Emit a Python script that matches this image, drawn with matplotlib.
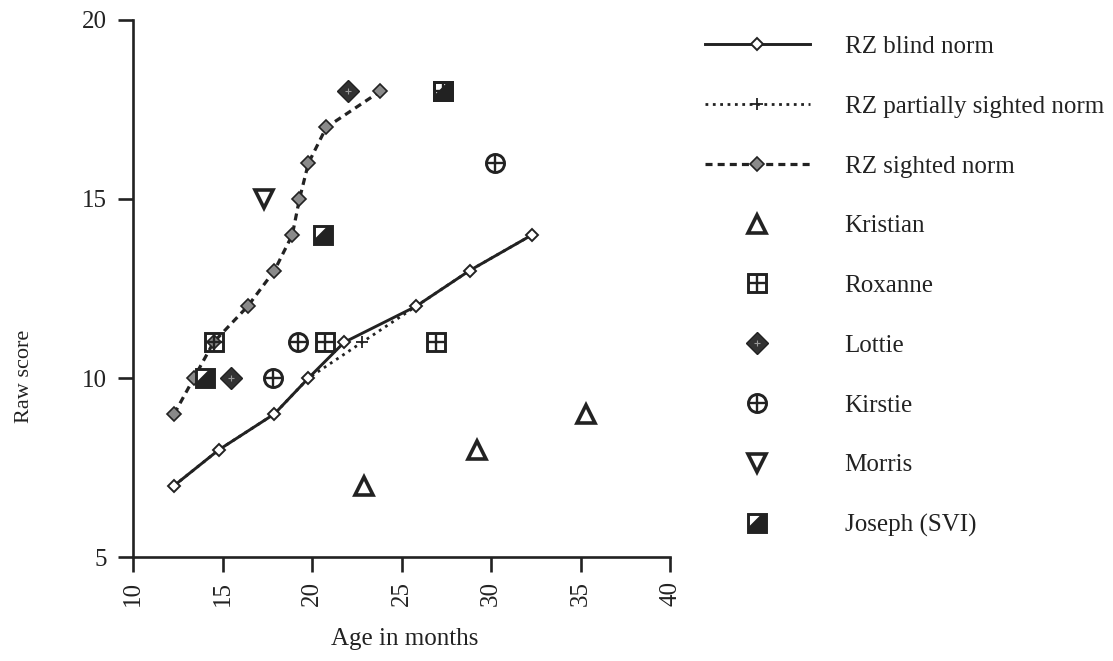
import matplotlib
matplotlib.use('Agg')
import matplotlib.pyplot as plt

plt.rcParams['font.family'] = ['Liberation Serif', 'DejaVu Serif']
plt.rcParams['text.color'] = '#222222'

# Norm curves (age in months, raw score)
blind_age = [12.3, 14.8, 17.9, 19.8, 21.8, 25.8, 28.8, 32.3]
blind_score = [7, 8, 9, 10, 11, 12, 13, 14]
partial_age = [12.3, 14.8, 17.9, 19.8, 22.8, 25.8, 28.8, 32.3]
partial_score = [7, 8, 9, 10, 11, 12, 13, 14]
sighted_age = [12.3, 13.4, 14.5, 16.4, 17.9, 18.9, 19.3, 19.8, 20.8, 23.8]
sighted_score = [9, 10, 11, 12, 13, 14, 15, 16, 17, 18]

# Individual children
kristian_age = [22.9, 29.2, 35.3]
kristian_score = [7, 8, 9]
roxanne_age = [14.5, 20.7, 26.9, 27.3]
roxanne_score = [11, 11, 11, 18]
lottie_age = [15.5, 22.0]
lottie_score = [10, 18]
kirstie_age = [17.8, 19.2, 30.2]
kirstie_score = [10, 11, 16]
morris_age = [17.3]
morris_score = [15]
joseph_age = [14.0, 20.6, 27.3]
joseph_score = [10, 14, 18]

ink = '#222222'
fig = plt.figure(figsize=(11.13, 6.61), dpi=100)
ax = fig.add_axes([0.1195, 0.157, 0.4825, 0.813])

h_blind, = ax.plot(blind_age, blind_score, '-', color=ink, lw=2.1,
                   marker='D', ms=6, mfc='white', mec=ink, mew=1.4, zorder=3)
h_partial, = ax.plot(partial_age, partial_score, ':', color=ink, lw=2.0,
                     marker='+', ms=8, mew=1.3, zorder=2)
h_sighted, = ax.plot(sighted_age, sighted_score, color=ink, lw=2.3,
                     dashes=(2.2, 1.6), marker='D', ms=7, mfc='#8a8a8a',
                     mec=ink, mew=1.2, zorder=3)

ms = 13
mew = 2.1
h_kr, = ax.plot(kristian_age, kristian_score, ls='none', marker='^', ms=ms,
                mfc='white', mec=ink, mew=2.6, zorder=5)

# half-filled square for Joseph: open square + dark lower-right part
joseph_black = [(-1, -1), (1, -1), (1, 1), (0.45, 1), (-1, -0.45), (-1, -1)]
h_jo1, = ax.plot(joseph_age, joseph_score, ls='none', marker='s', ms=ms,
                 mfc='white', mec=ink, mew=mew, zorder=5)
h_jo2, = ax.plot(joseph_age, joseph_score, ls='none', marker=joseph_black,
                 ms=ms, mfc=ink, mec=ink, mew=0.5, zorder=5)

h_ro1, = ax.plot(roxanne_age, roxanne_score, ls='none', marker='s', ms=ms,
                 mfc='none', mec=ink, mew=mew, zorder=6)
h_ro2, = ax.plot(roxanne_age, roxanne_score, ls='none', marker='+', ms=ms,
                 mec=ink, mew=1.7, zorder=6)

h_lo1, = ax.plot(lottie_age, lottie_score, ls='none', marker='D', ms=11.5,
                 mfc='#333333', mec=ink, mew=1.0, zorder=5)
h_lo2, = ax.plot(lottie_age, lottie_score, ls='none', marker='+', ms=4,
                 mec='#9a9a9a', mew=0.8, zorder=5)

h_ki1, = ax.plot(kirstie_age, kirstie_score, ls='none', marker='o', ms=ms,
                 mfc='white', mec=ink, mew=mew, zorder=5)
h_ki2, = ax.plot(kirstie_age, kirstie_score, ls='none', marker='+', ms=ms,
                 mec=ink, mew=1.7, zorder=5)

h_mo, = ax.plot(morris_age, morris_score, ls='none', marker='v', ms=ms,
                mfc='white', mec=ink, mew=2.6, zorder=5)

ax.set_xlim(10, 40)
ax.set_ylim(5, 20)
ax.set_xticks(range(10, 41, 5))
ax.set_yticks([5, 10, 15, 20])
ax.tick_params(axis='both', labelsize=18, length=11, width=1.9, colors=ink)
ax.tick_params(axis='x', labelrotation=90, pad=6)
ax.tick_params(axis='y', pad=8)
for s in ['top', 'right']:
    ax.spines[s].set_visible(False)
for s in ['left', 'bottom']:
    ax.spines[s].set_linewidth(1.9)
    ax.spines[s].set_color(ink)

fig.text(0.364, 0.017, 'Age in months', ha='center', va='bottom', fontsize=18)
fig.text(0.022, 0.431, 'Raw score', ha='center', va='center', rotation=90,
         fontsize=16)

handles = [h_blind, h_partial, h_sighted, h_kr, (h_ro1, h_ro2),
           (h_lo1, h_lo2), (h_ki1, h_ki2), h_mo, (h_jo1, h_jo2)]
labels = ['RZ blind norm', 'RZ partially sighted norm', 'RZ sighted norm',
          'Kristian', 'Roxanne', 'Lottie', 'Kirstie', 'Morris', 'Joseph (SVI)']
fig.legend(handles, labels, loc='upper left', bbox_to_anchor=(0.633, 0.946),
           frameon=False, fontsize=18, handlelength=4.2, handletextpad=1.4,
           labelspacing=1.49, numpoints=1, borderpad=0, borderaxespad=0)

fig.savefig('out.png', dpi=100)
